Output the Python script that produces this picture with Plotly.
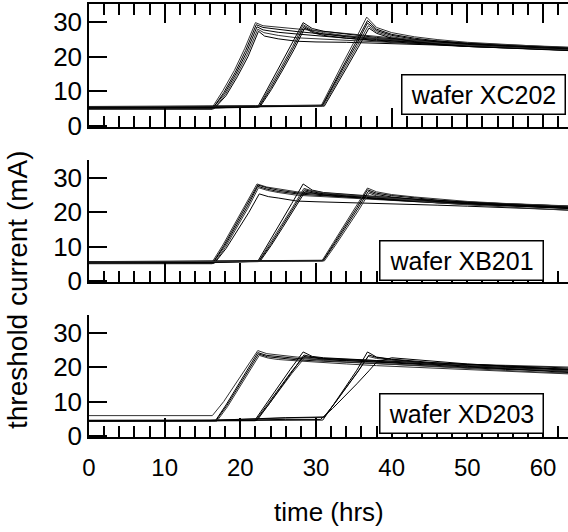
import plotly.graph_objects as go

# ---------------- data ----------------
# wafer XC202 (top panel)
XC202_T = [
    [0, 16.2, 17.7, 19.2, 20.6, 22.0, 23.0, 25.0, 27.5, 30, 34, 38, 42, 46, 50, 55, 60, 63.3],
    [0, 16.3, 17.8, 19.3, 20.7, 22.1, 23.0, 25.0, 27.5, 30, 34, 38, 42, 46, 50, 55, 60, 63.3],
    [0, 16.4, 17.9, 19.4, 20.8, 22.2, 23.0, 25.0, 27.5, 30, 34, 38, 42, 46, 50, 55, 60, 63.3],
    [0, 16.5, 18.0, 19.5, 20.9, 22.3, 23.1, 25.0, 27.5, 30, 34, 38, 42, 46, 50, 55, 60, 63.3],
    [0, 16.6, 18.1, 19.6, 21.0, 22.4, 23.2, 25.0, 27.5, 30, 34, 38, 42, 46, 50, 55, 60, 63.3],
    [0, 16, 22.3, 23.8, 25.3, 26.8, 28.3, 29.5, 31, 34, 38, 42, 46, 50, 55, 60, 63.3],
    [0, 16, 22.4, 23.9, 25.4, 26.9, 28.3, 29.5, 31, 34, 38, 42, 46, 50, 55, 60, 63.3],
    [0, 16, 22.5, 24.0, 25.5, 27.0, 28.4, 29.6, 31, 34, 38, 42, 46, 50, 55, 60, 63.3],
    [0, 16, 22.6, 24.1, 25.6, 27.1, 28.5, 29.7, 31, 34, 38, 42, 46, 50, 55, 60, 63.3],
    [0, 16, 22, 30.7, 32.2, 33.7, 35.2, 36.7, 38, 40, 43, 46, 50, 55, 60, 63.3],
    [0, 16, 22, 30.8, 32.3, 33.8, 35.3, 36.8, 38, 40, 43, 46, 50, 55, 60, 63.3],
    [0, 16, 22, 30.9, 32.4, 33.9, 35.4, 36.8, 38, 40, 43, 46, 50, 55, 60, 63.3],
    [0, 16, 22, 31.0, 32.5, 34.0, 35.5, 36.9, 38, 40, 43, 46, 50, 55, 60, 63.3],
    [0, 16, 22, 31.1, 32.6, 34.1, 35.6, 37.0, 38, 40, 43, 46, 50, 55, 60, 63.3],
]
XC202_I = [
    [5.0, 5.0, 10.2, 16.0, 22.5, 29.9, 29.0, 28.6, 28.0, 27.5, 26.6, 25.8, 25.1, 24.6, 24.0, 23.5, 23.0, 22.8],
    [4.8, 4.8, 9.6, 15.4, 21.8, 29.3, 28.5, 27.9, 27.3, 26.8, 26.0, 25.3, 24.7, 24.2, 23.7, 23.2, 22.8, 22.5],
    [5.2, 5.2, 9.3, 15.0, 21.2, 28.7, 27.8, 27.1, 26.6, 26.1, 25.4, 24.8, 24.3, 23.8, 23.4, 22.9, 22.5, 22.2],
    [4.9, 4.9, 9.0, 14.6, 20.6, 28.0, 27.0, 26.2, 25.5, 25.2, 24.7, 24.3, 23.9, 23.5, 23.1, 22.7, 22.3, 22.0],
    [5.1, 5.1, 8.7, 14.2, 20.0, 27.4, 26.0, 25.2, 24.5, 24.3, 24.2, 24.0, 23.7, 23.4, 23.0, 22.6, 22.2, 21.9],
    [5.2, 5.2, 5.5, 11.5, 17.5, 23.5, 29.9, 28.2, 27.4, 26.6, 25.6, 24.9, 24.3, 23.8, 23.3, 22.9, 22.6],
    [5.0, 5.1, 5.4, 11.0, 17.0, 23.0, 29.3, 27.8, 27.0, 26.1, 25.2, 24.5, 24.0, 23.5, 23.0, 22.6, 22.3],
    [5.3, 5.3, 5.6, 10.8, 16.6, 22.6, 28.8, 27.3, 26.6, 25.8, 25.0, 24.3, 23.7, 23.2, 22.8, 22.4, 22.1],
    [5.1, 5.2, 5.5, 10.5, 16.2, 22.1, 28.3, 26.9, 26.2, 25.4, 24.6, 24.0, 23.5, 23.0, 22.6, 22.2, 21.9],
    [5.4, 5.5, 5.7, 5.9, 12.5, 18.8, 25.0, 31.5, 28.5, 27.0, 25.8, 25.0, 24.2, 23.5, 23.0, 22.7],
    [5.3, 5.4, 5.6, 5.8, 12.0, 18.2, 24.3, 30.5, 28.0, 26.5, 25.4, 24.6, 23.9, 23.2, 22.8, 22.5],
    [5.6, 5.6, 5.8, 6.0, 11.8, 17.8, 23.8, 29.8, 27.6, 26.2, 25.1, 24.3, 23.6, 23.0, 22.6, 22.3],
    [5.5, 5.5, 5.7, 5.9, 11.5, 17.4, 23.3, 29.0, 27.2, 25.8, 24.8, 24.0, 23.3, 22.7, 22.3, 22.0],
    [5.2, 5.3, 5.5, 5.7, 11.2, 17.0, 22.8, 28.3, 26.8, 25.4, 24.4, 23.7, 23.0, 22.5, 22.1, 21.8],
]

# wafer XB201 (middle panel)
XB201_T = [
    [0, 16.2, 17.7, 19.2, 20.7, 22.2, 23.5, 25, 27.5, 30, 34, 38, 42, 46, 50, 55, 60, 63.3],
    [0, 16.3, 17.8, 19.3, 20.8, 22.3, 23.5, 25, 27.5, 30, 34, 38, 42, 46, 50, 55, 60, 63.3],
    [0, 16.4, 17.9, 19.4, 20.9, 22.3, 23.5, 25, 27.5, 30, 34, 38, 42, 46, 50, 55, 60, 63.3],
    [0, 16.5, 18.0, 19.5, 21.0, 22.4, 23.6, 25, 27.5, 30, 34, 38, 42, 46, 50, 55, 60, 63.3],
    [0, 16.6, 18.1, 19.6, 21.1, 22.5, 23.7, 25, 27.5, 30, 34, 38, 42, 46, 50, 55, 60, 63.3],
    [0, 16, 22.3, 23.8, 25.3, 26.8, 28.3, 29.5, 31, 34, 38, 42, 46, 50, 55, 60, 63.3],
    [0, 16, 22.4, 23.9, 25.4, 26.9, 28.4, 29.5, 31, 34, 38, 42, 46, 50, 55, 60, 63.3],
    [0, 16, 22.5, 24.0, 25.5, 27.0, 28.5, 29.6, 31, 34, 38, 42, 46, 50, 55, 60, 63.3],
    [0, 16, 22.6, 24.1, 25.6, 27.1, 28.6, 29.7, 31, 34, 38, 42, 46, 50, 55, 60, 63.3],
    [0, 16, 22, 30.8, 32.3, 33.8, 35.3, 36.8, 38, 40, 43, 46, 50, 55, 60, 63.3],
    [0, 16, 22, 30.9, 32.4, 33.9, 35.4, 36.8, 38, 40, 43, 46, 50, 55, 60, 63.3],
    [0, 16, 22, 31.0, 32.5, 34.0, 35.5, 36.9, 38, 40, 43, 46, 50, 55, 60, 63.3],
    [0, 16, 22, 31.1, 32.6, 34.1, 35.6, 37.0, 38, 40, 43, 46, 50, 55, 60, 63.3],
]
XB201_I = [
    [5.2, 5.2, 10.5, 16.3, 22.3, 28.3, 27.4, 26.8, 26.0, 25.6, 25.0, 24.4, 23.9, 23.4, 23.0, 22.5, 22.1, 21.8],
    [5.0, 5.0, 10.2, 16.0, 21.9, 28.0, 27.2, 26.5, 25.7, 25.3, 24.7, 24.1, 23.6, 23.2, 22.7, 22.3, 21.9, 21.6],
    [5.3, 5.3, 10.0, 15.7, 21.6, 27.6, 26.8, 26.1, 25.4, 25.0, 24.4, 23.9, 23.4, 23.0, 22.5, 22.1, 21.7, 21.4],
    [5.1, 5.1, 9.7, 15.3, 21.2, 27.2, 26.4, 25.8, 25.0, 24.7, 24.2, 23.7, 23.2, 22.7, 22.3, 21.9, 21.5, 21.2],
    [5.2, 5.2, 9.4, 14.6, 19.9, 25.4, 24.6, 24.2, 23.3, 23.1, 22.9, 22.7, 22.4, 22.1, 21.8, 21.4, 21.0, 20.7],
    [5.3, 5.4, 5.7, 11.2, 17.0, 22.6, 28.3, 26.5, 25.8, 25.3, 24.6, 24.0, 23.5, 23.0, 22.5, 22.1, 21.8],
    [5.2, 5.3, 5.6, 10.8, 16.2, 21.5, 27.0, 26.3, 25.7, 25.1, 24.4, 23.8, 23.3, 22.8, 22.4, 22.0, 21.7],
    [5.4, 5.5, 5.8, 10.6, 15.9, 21.2, 26.6, 26.0, 25.4, 24.8, 24.1, 23.5, 23.0, 22.6, 22.2, 21.8, 21.5],
    [5.3, 5.4, 5.7, 10.4, 15.6, 20.9, 26.2, 25.6, 25.0, 24.5, 23.8, 23.3, 22.8, 22.4, 22.0, 21.6, 21.2],
    [5.5, 5.6, 5.8, 5.9, 11.2, 16.4, 21.8, 27.1, 26.0, 25.2, 24.5, 23.9, 23.2, 22.6, 22.2, 21.9],
    [5.4, 5.5, 5.7, 5.8, 11.0, 16.1, 21.4, 26.6, 25.6, 24.9, 24.2, 23.6, 22.9, 22.3, 21.8, 21.5],
    [5.6, 5.7, 5.9, 6.0, 10.8, 15.8, 21.0, 26.1, 25.2, 24.5, 23.8, 23.2, 22.6, 22.0, 21.5, 21.1],
    [5.5, 5.6, 5.7, 5.8, 10.5, 15.4, 20.5, 25.6, 24.8, 24.1, 23.4, 22.8, 22.2, 21.6, 21.0, 20.6],
]

# wafer XD203 (bottom panel)
XD203_T = [
    [0, 16.3, 17.8, 19.3, 20.8, 22.3, 23.5, 25, 27.5, 30, 34, 38, 42, 46, 50, 55, 60, 63.3],
    [0, 16.7, 18.1, 19.5, 20.9, 22.3, 23.5, 25, 27.5, 30, 34, 38, 42, 46, 50, 55, 60, 63.3],
    [0, 16.8, 18.2, 19.6, 21.0, 22.4, 23.6, 25, 27.5, 30, 34, 38, 42, 46, 50, 55, 60, 63.3],
    [0, 16.9, 18.3, 19.7, 21.1, 22.5, 23.7, 25, 27.5, 30, 34, 38, 42, 46, 50, 55, 60, 63.3],
    [0, 16, 21.9, 23.5, 25.0, 26.6, 28.3, 29.5, 31, 34, 38, 42, 46, 50, 55, 60, 63.3],
    [0, 16, 22.0, 23.6, 25.1, 26.7, 28.4, 29.5, 31, 34, 38, 42, 46, 50, 55, 60, 63.3],
    [0, 16, 22.1, 23.7, 25.2, 26.8, 28.5, 29.6, 31, 34, 38, 42, 46, 50, 55, 60, 63.3],
    [0, 16, 22.2, 23.8, 25.3, 26.9, 28.4, 29.6, 31, 34, 38, 42, 46, 50, 55, 60, 63.3],
    [0, 16, 26, 30.9, 32.4, 33.9, 35.4, 36.8, 38, 40, 43, 46, 50, 55, 60, 63.3],
    [0, 16, 26, 31.0, 32.5, 34.0, 35.5, 36.9, 38, 40, 43, 46, 50, 55, 60, 63.3],
    [0, 16, 26, 31.1, 32.6, 34.1, 35.6, 37.0, 38, 40, 43, 46, 50, 55, 60, 63.3],
    [0, 16, 26, 30.6, 32.2, 33.8, 35.4, 37.0, 38, 40, 43, 46, 50, 55, 60, 63.3],
]
XD203_I = [
    [5.9, 5.9, 10.0, 15.0, 19.8, 24.9, 24.0, 23.6, 23.0, 22.7, 22.3, 21.9, 21.5, 21.2, 20.9, 20.6, 20.3, 20.1],
    [4.4, 4.4, 9.0, 14.0, 19.0, 24.3, 23.5, 23.1, 22.6, 22.3, 21.9, 21.5, 21.1, 20.7, 20.3, 20.0, 19.7, 19.5],
    [4.5, 4.5, 8.8, 13.8, 18.7, 23.9, 23.1, 22.7, 22.2, 21.9, 21.5, 21.0, 20.6, 20.2, 19.8, 19.4, 19.1, 18.8],
    [4.3, 4.3, 8.5, 13.4, 18.3, 23.5, 22.7, 22.3, 21.9, 21.5, 21.0, 20.5, 20.1, 19.6, 19.2, 18.8, 18.4, 18.1],
    [4.4, 4.4, 4.5, 9.6, 14.5, 19.4, 24.5, 23.2, 22.8, 22.4, 22.0, 21.6, 21.2, 20.8, 20.4, 20.1, 19.8],
    [4.3, 4.3, 4.4, 9.2, 13.9, 18.6, 23.2, 22.8, 22.4, 22.0, 21.5, 21.0, 20.6, 20.1, 19.6, 19.2, 18.9],
    [4.5, 4.5, 4.6, 9.0, 13.6, 18.2, 22.8, 22.4, 22.0, 21.6, 21.1, 20.6, 20.1, 19.6, 19.1, 18.6, 18.3],
    [4.4, 4.4, 4.5, 9.3, 14.1, 18.9, 23.6, 23.0, 22.6, 22.2, 21.7, 21.3, 20.9, 20.4, 19.9, 19.5, 19.2],
    [4.3, 4.4, 4.5, 4.6, 9.4, 14.2, 19.2, 24.5, 23.0, 22.4, 21.8, 21.3, 20.8, 20.2, 19.7, 19.3],
    [4.4, 4.5, 5.2, 5.4, 9.6, 14.0, 18.6, 23.2, 22.6, 22.1, 21.5, 21.0, 20.4, 19.8, 19.2, 18.8],
    [4.5, 4.5, 5.3, 5.5, 9.9, 14.4, 19.0, 23.6, 22.9, 22.3, 21.6, 21.0, 20.3, 19.6, 19.0, 18.5],
    [4.4, 4.4, 4.8, 4.8, 8.0, 11.5, 15.2, 19.0, 21.5, 22.8, 22.2, 21.6, 21.0, 20.4, 19.8, 19.4],
]

WAFERS = ["wafer XC202", "wafer XB201", "wafer XD203"]
X_TICKS = [0, 10, 20, 30, 40, 50, 60]
Y_TICKS = [0, 10, 20, 30]
X_TITLE = "time (hrs)"
Y_TITLE = "threshold current (mA)"

# ---------------- figure ----------------
FONT = "Arial, 'Liberation Sans', sans-serif"
W, H = 568, 532
ML, MR, MT, MB = 89, 0, 4, 95
plot_h = H - MT - MB

def dom(top_px, bot_px):
    return [(H - MB - bot_px) / plot_h, (H - MB - top_px) / plot_h]

fig = go.Figure()

panels = [
    (XC202_T, XC202_I, "x3", "y3"),
    (XB201_T, XB201_I, "x2", "y2"),
    (XD203_T, XD203_I, "x", "y"),
]
for T, I, xa, ya in panels:
    for k, (t, i) in enumerate(zip(T, I)):
        fig.add_trace(go.Scatter(
            x=t, y=i, mode="lines", xaxis=xa, yaxis=ya,
            line=dict(color="#000000" if k % 3 else "#333333", width=1),
            showlegend=False, hoverinfo="skip"))

XR = [0, 63.3]
YR = [-0.35, 35.3]

xcommon = dict(range=XR, showgrid=False, zeroline=False, showline=True,
               linecolor="black", linewidth=1.5, ticks="inside", ticklen=19,
               tickwidth=1.8, tickcolor="black", tickvals=X_TICKS,
               minor=dict(dtick=2, ticks="inside", ticklen=11, tickwidth=1.8,
                          tickcolor="black", showgrid=False),
               tickfont=dict(family=FONT, size=24, color="black"))
ycommon = dict(range=YR, showgrid=False, zeroline=False, showline=True,
               linecolor="black", linewidth=1.5, ticks="inside", ticklen=18,
               tickwidth=1.8, tickcolor="black", tickvals=Y_TICKS,
               tickfont=dict(family=FONT, size=26, color="black"))
yright = dict(range=YR, showgrid=False, zeroline=False, showline=False,
              ticks="inside", ticklen=20, tickwidth=1.8, tickcolor="black",
              tickvals=Y_TICKS, showticklabels=False, side="right")

d1 = dom(4, 127)
d2 = dom(160, 282)
d3 = dom(315, 437)

fig.update_layout(
    width=W, height=H, margin=dict(l=ML, r=MR, t=MT, b=MB),
    paper_bgcolor="white", plot_bgcolor="white",
    xaxis=dict(xcommon, anchor="y", domain=[0, 1], showticklabels=True,
               ticklabelstandoff=8),
    yaxis=dict(ycommon, anchor="x", domain=d3),
    xaxis2=dict(xcommon, anchor="y2", domain=[0, 1], showticklabels=False,
                matches="x"),
    yaxis2=dict(ycommon, anchor="x2", domain=d2),
    xaxis3=dict(xcommon, anchor="y3", domain=[0, 1], showticklabels=False,
                matches="x", mirror="allticks"),
    yaxis3=dict(ycommon, anchor="x3", domain=d1),
    yaxis4=dict(yright, overlaying="y", anchor="x"),
    yaxis5=dict(yright, overlaying="y2", anchor="x2"),
    yaxis6=dict(yright, overlaying="y3", anchor="x3"),
)

# wafer label boxes
boxes = [("x3", "y3", 52.1, 9.0, WAFERS[0]),
         ("x2", "y2", 49.2, 6.0, WAFERS[1]),
         ("x", "y", 49.2, 6.4, WAFERS[2])]
for xa, ya, bx, by, txt in boxes:
    fig.add_annotation(x=bx, y=by, xref=xa, yref=ya, text=txt, showarrow=False,
                       xanchor="center", yanchor="middle",
                       font=dict(family=FONT, size=25, color="black"),
                       bgcolor="white", bordercolor="black", borderwidth=1.5,
                       borderpad=5, width=152)

# axis titles
fig.add_annotation(text=X_TITLE, xref="paper", yref="paper",
                   x=(329 - ML) / (W - ML - MR), y=(H - MB - 512) / plot_h,
                   showarrow=False, xanchor="center", yanchor="middle",
                   font=dict(family=FONT, size=26, color="black"))
fig.add_annotation(text=Y_TITLE, xref="paper", yref="paper",
                   x=(17 - ML) / (W - ML - MR), y=(H - MB - 290) / plot_h,
                   showarrow=False, xanchor="center", yanchor="middle",
                   textangle=-90,
                   font=dict(family=FONT, size=28, color="black"))

fig.write_html("out.html")
